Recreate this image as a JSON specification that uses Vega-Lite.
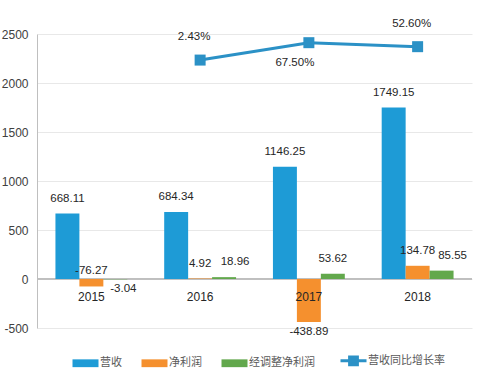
{
  "$schema": "https://vega.github.io/schema/vega-lite/v6.json",
  "width": 435,
  "height": 294,
  "autosize": {"type": "none"},
  "padding": {"left": 37, "top": 34, "right": 8, "bottom": 53},
  "background": "white",
  "config": {
    "view": {"stroke": null},
    "font": "Liberation Sans",
    "text": {"font": "Liberation Sans", "fontSize": 11.5, "color": "#262626"}
  },
  "datasets": {
    "bars": [
      {"year": "2015", "series": "营收", "value": 668.11},
      {"year": "2015", "series": "净利润", "value": -76.27},
      {"year": "2015", "series": "经调整净利润", "value": -3.04},
      {"year": "2016", "series": "营收", "value": 684.34},
      {"year": "2016", "series": "净利润", "value": 4.92},
      {"year": "2016", "series": "经调整净利润", "value": 18.96},
      {"year": "2017", "series": "营收", "value": 1146.25},
      {"year": "2017", "series": "净利润", "value": -438.89},
      {"year": "2017", "series": "经调整净利润", "value": 53.62},
      {"year": "2018", "series": "营收", "value": 1749.15},
      {"year": "2018", "series": "净利润", "value": 134.78},
      {"year": "2018", "series": "经调整净利润", "value": 85.55}
    ],
    "rate": [
      {"year": "2016", "rate": 2.43, "label": "2.43%"},
      {"year": "2017", "rate": 67.5, "label": "67.50%"},
      {"year": "2018", "rate": 52.6, "label": "52.60%"}
    ]
  },
  "encoding": {
    "x": {
      "field": "year",
      "type": "nominal",
      "scale": {"domain": ["2015", "2016", "2017", "2018"], "paddingInner": 0, "paddingOuter": 0},
      "axis": null
    }
  },
  "layer": [
    {
      "data": {"name": "bars"},
      "layer": [
        {
          "mark": {"type": "rule", "color": "#bfbfbf", "strokeWidth": 1},
          "encoding": {"x": null, "y": {"datum": 0, "type": "quantitative"}}
        },
        {
          "mark": {"type": "bar"},
          "encoding": {
            "xOffset": {
              "field": "series",
              "sort": ["营收", "净利润", "经调整净利润"],
              "scale": {"paddingInner": 0, "paddingOuter": 0.77}
            },
            "y": {
              "field": "value",
              "type": "quantitative",
              "scale": {"domain": [-500, 2500], "nice": false},
              "axis": {
                "values": [-500, 0, 500, 1000, 1500, 2000, 2500],
                "labelExpr": "'' + datum.value",
                "title": null,
                "grid": true,
                "gridColor": "#e8e8e8",
                "domainColor": "#bfbfbf",
                "ticks": false,
                "labelPadding": 9,
                "labelFontSize": 12,
                "labelColor": "#404040",
                "labelFont": "Liberation Sans"
              }
            },
            "color": {
              "field": "series",
              "type": "nominal",
              "scale": {
                "domain": ["营收", "净利润", "经调整净利润", "营收同比增长率"],
                "range": ["#1e9bd6", "#f5902e", "#62a84c", "#2b91c6"]
              },
              "legend": {
                "orient": "none",
                "legendX": 43,
                "legendY": 321,
                "direction": "horizontal",
                "columns": 4,
                "title": null,
                "symbolSize": 676,
                "labelFontSize": 11,
                "labelColor": "#595959",
                "labelFont": "Noto Sans CJK SC",
                "columnPadding": 19,
                "labelOffset": 9,
                "encode": {
                  "symbols": {
                    "update": {
                      "shape": {"signal": "datum.value === '营收同比增长率' ? 'M-1,0H1M-0.3,-0.3H0.3V0.3H-0.3Z' : 'M-1,-0.3H1V0.3H-1Z'"},
                      "fill": {"signal": "scale('color', datum.value)"},
                      "stroke": {"signal": "scale('color', datum.value)"},
                      "strokeWidth": {"signal": "datum.value === '营收同比增长率' ? 3 : 0"},
                      "opacity": {"value": 1},
                      "fillOpacity": {"value": 1}
                    }
                  }
                }
              }
            }
          }
        },
        {
          "transform": [{"filter": "(datum.value >= 0 || (datum.value < -50 && datum.value > -100)) && !(datum.series === '经调整净利润' && datum.year !== '2017')"}],
          "mark": {"type": "text", "baseline": "middle", "dy": -15},
          "encoding": {
            "xOffset": {"field": "series", "sort": ["营收", "净利润", "经调整净利润"]},
            "y": {"field": "value", "type": "quantitative"},
            "text": {"field": "value", "type": "nominal"}
          }
        },
        {
          "transform": [{"filter": "datum.value >= 0 && datum.series === '经调整净利润' && datum.year !== '2017'"}],
          "mark": {"type": "text", "baseline": "middle", "dy": -15, "dx": 11},
          "encoding": {
            "xOffset": {"field": "series", "sort": ["营收", "净利润", "经调整净利润"]},
            "y": {"field": "value", "type": "quantitative"},
            "text": {"field": "value", "type": "nominal"}
          }
        },
        {
          "transform": [{"filter": "!(datum.value >= 0 || (datum.value < -50 && datum.value > -100)) && datum.series !== '经调整净利润'"}],
          "mark": {"type": "text", "baseline": "middle", "dy": 10},
          "encoding": {
            "xOffset": {"field": "series", "sort": ["营收", "净利润", "经调整净利润"]},
            "y": {"field": "value", "type": "quantitative"},
            "text": {"field": "value", "type": "nominal"}
          }
        },
        {
          "transform": [{"filter": "!(datum.value >= 0 || (datum.value < -50 && datum.value > -100)) && datum.series === '经调整净利润'"}],
          "mark": {"type": "text", "baseline": "middle", "dy": 10, "dx": 8},
          "encoding": {
            "xOffset": {"field": "series", "sort": ["营收", "净利润", "经调整净利润"]},
            "y": {"field": "value", "type": "quantitative"},
            "text": {"field": "value", "type": "nominal"}
          }
        },
        {
          "transform": [{"filter": "datum.series === '营收'"}],
          "mark": {"type": "text", "baseline": "middle", "dy": 18, "fontSize": 12, "color": "#262626"},
          "encoding": {
            "y": {"datum": 0, "type": "quantitative"},
            "text": {"field": "year", "type": "nominal"}
          }
        }
      ]
    },
    {
      "data": {"name": "rate"},
      "encoding": {
        "y": {
          "field": "rate",
          "type": "quantitative",
          "scale": {"domain": [-1000, 100], "nice": false},
          "axis": null
        }
      },
      "layer": [
        {
          "mark": {"type": "line", "strokeWidth": 3},
          "encoding": {"color": {"datum": "营收同比增长率", "type": "nominal"}}
        },
        {
          "mark": {"type": "square", "size": 121, "opacity": 1, "filled": true},
          "encoding": {"color": {"datum": "营收同比增长率", "type": "nominal"}}
        },
        {
          "transform": [{"filter": "datum.year !== '2017'"}],
          "mark": {"type": "text", "baseline": "middle", "dy": -23, "dx": -6},
          "encoding": {"text": {"field": "label", "type": "nominal"}}
        },
        {
          "transform": [{"filter": "datum.year === '2017'"}],
          "mark": {"type": "text", "baseline": "middle", "dy": 20, "dx": -14},
          "encoding": {"text": {"field": "label", "type": "nominal"}}
        }
      ]
    }
  ],
  "resolve": {"scale": {"y": "independent"}}
}
